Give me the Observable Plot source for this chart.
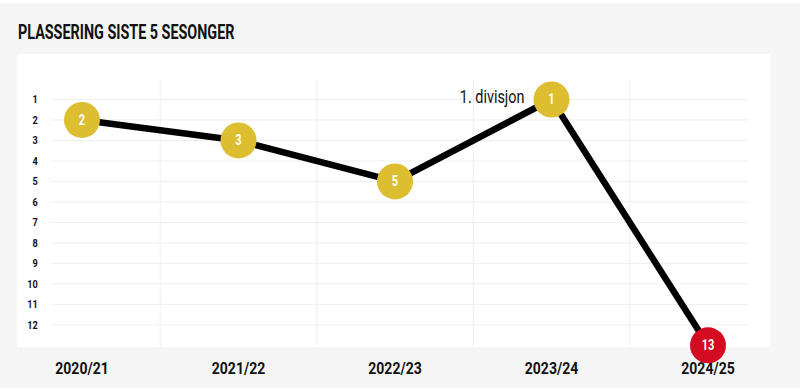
<!DOCTYPE html>
<html>
<head>
<meta charset="utf-8">
<script src="https://cdn.jsdelivr.net/npm/d3@7"></script>
<script src="https://cdn.jsdelivr.net/npm/@observablehq/plot@0.6"></script>
<style>
  body { margin: 0; background: #ffffff; }
  #wrap { position: absolute; left: 0; top: 3px; width: 800px; height: 385px; background: #f5f5f5; }
  #title { position: absolute; left: 18px; top: 19px; font-family: Roboto, "DejaVu Sans Condensed", sans-serif; font-weight: 700; font-size: 20.5px; line-height: 20px; color: #111; white-space: nowrap; transform: scaleX(0.7); transform-origin: 0 0; }
  #panel { position: absolute; left: 17px; top: 51px; width: 753px; height: 293px; background: #ffffff; }
  #chart { position: absolute; left: 0; top: 51px; }
</style>
</head>
<body>
<div id="wrap">
  <div id="title">PLASSERING SISTE 5 SESONGER</div>
  <div id="panel"></div>
  <div id="chart"></div>
</div>
<script>
const seasons = ["2020/21", "2021/22", "2022/23", "2023/24", "2024/25"];
const ranks = [2, 3, 5, 1, 13];
const yTicks = [1, 2, 3, 4, 5, 6, 7, 8, 9, 10, 11, 12];
const annotations = [{season: "2023/24", label: "1. divisjon"}];
const yellow = "#dcbe30";
const red = "#d40c22";
const font = 'Roboto, "DejaVu Sans Condensed", sans-serif';

const data = seasons.map((s, i) => ({season: s, i, rank: ranks[i]}));
const annData = annotations.map(a => {
  const d = data.find(d => d.season === a.season);
  return {...d, label: a.label};
});

const chart = Plot.plot({
  width: 800,
  height: 334,
  marginLeft: 3.25,
  marginRight: 14.25,
  marginTop: 45,
  marginBottom: 43.2,
  style: {background: "transparent", overflow: "visible", fontFamily: font},
  x: {domain: [-0.5, seasons.length - 0.5], axis: null},
  y: {domain: [1, 13], reverse: true, axis: null},
  marks: [
    Plot.gridY(yTicks, {stroke: "#efefef", strokeOpacity: 1, insetLeft: 47, insetRight: 38}),
    Plot.ruleX(d3.range(seasons.length - 1).map(i => i + 0.5), {stroke: "#efefef", strokeOpacity: 1, insetTop: -19, insetBottom: -2}),
    Plot.axisY(yTicks, {label: null, tickSize: 0, tickPadding: 0, dx: 34, fontSize: 11.5, fontWeight: 700, fill: "#111", fontFamily: font}),
    Plot.axisX(d3.range(seasons.length), {label: null, tickSize: 0, tickPadding: 17, tickFormat: i => seasons[i], fontSize: 16.5, fontWeight: 700, fill: "#111", fontFamily: font}),
    Plot.line(data, {x: "i", y: "rank", stroke: "#000", strokeWidth: 6.5}),
    Plot.dot(data, {x: "i", y: "rank", r: 18, fill: d => d.rank > 12 ? red : yellow, stroke: "none"}),
    Plot.text(data, {x: "i", y: "rank", text: d => String(d.rank), fill: "#fff", fontSize: 14.5, fontWeight: 700, fontFamily: font}),
    Plot.text(annData, {x: "i", y: "rank", text: "label", textAnchor: "end", dx: -27, dy: -3, fontSize: 19, fontWeight: 400, fill: "#111", fontFamily: font})
  ]
});

// condensed look: horizontally compress each text around its own anchor (keyed by the layer's font size)
const squeeze = {"11.5": 0.8, "16.5": 0.85, "14.5": 0.76, "19": 0.76};
d3.select(chart).selectAll("g[font-size]").each(function() {
  const s = squeeze[String(parseFloat(this.getAttribute("font-size")))];
  if (!s) return;
  d3.select(this).selectAll("text").each(function() {
    const t = this.getAttribute("transform") || "";
    this.setAttribute("transform", `${t} scale(${s},1)`);
  });
});
document.getElementById("chart").appendChild(chart);
</script>
</body>
</html>
